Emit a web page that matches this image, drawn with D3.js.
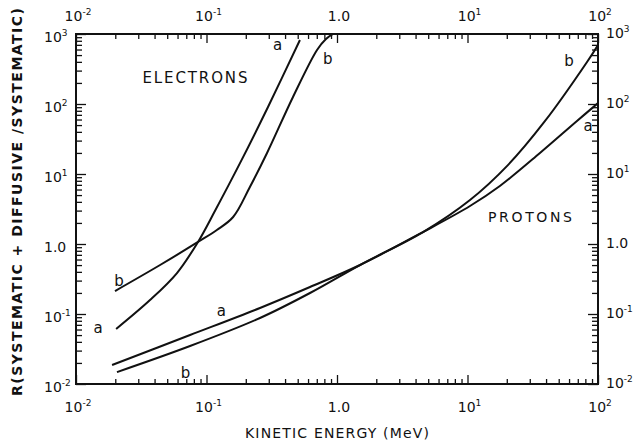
<!DOCTYPE html>
<html>
<head>
<meta charset="utf-8">
<script src="https://cdn.jsdelivr.net/npm/d3@7"></script>
<style>
  body { margin: 0; background: #fff; }
  text { font-family: "DejaVu Sans", sans-serif; fill: #111; }
</style>
</head>
<body>
<svg id="chart" width="644" height="444"></svg>
<script>
// values: [kinetic energy (MeV), R]
const electronA = [[0.0203, 0.0611], [0.0369, 0.158], [0.0594, 0.385], [0.0861, 1.07],
    [0.116, 2.96], [0.181, 14.4], [0.296, 90.6], [0.52, 821]]
const electronB = [[0.0199, 0.213], [0.0441, 0.501], [0.0861, 1.07], [0.120, 1.585],
    [0.160, 2.43], [0.215, 6.52], [0.291, 19.95], [0.460, 126], [0.703, 591],
    [0.823, 849], [0.932, 1000]]
const protonA = [[0.0189, 0.0187], [0.0748, 0.0501], [0.257, 0.122], [0.621, 0.243],
    [1.50, 0.501], [4.56, 1.48], [10.45, 3.49], [17.7, 6.74], [35.9, 19.95],
    [69.0, 57.2], [100, 103]]
const protonB = [[0.0206, 0.0148], [0.0748, 0.0349], [0.257, 0.0877], [0.621, 0.1995],
    [1.50, 0.501], [4.56, 1.48], [10.45, 4.25], [20.4, 13.4], [39.3, 57.2],
    [82.4, 398], [100, 696]]

// tick labels: [value, base, exponent]  (exponent null -> plain text)
const xTickLabels = [[0.01, "10", "-2"], [0.1, "10", "-1"], [1, "1.0", null], [10, "10", "1"], [100, "10", "2"]]
const yTickLabels = [[0.01, "10", "-2"], [0.1, "10", "-1"], [1, "1.0", null], [10, "10", "1"],
    [100, "10", "2"], [1000, "10", "3"]]

// curve labels: [E, R, text]
const curveLabels = [
    [0.35, 700, "a"], [0.85, 440, "b"], [0.0214, 0.3, "b"], [0.0148, 0.063, "a"],
    [0.13, 0.11, "a"], [0.069, 0.0142, "b"], [60, 410, "b"], [84, 48, "a"]
]

const svg = d3.select("#chart")
const x = d3.scaleLog().domain([1e-2, 1e2]).range([76, 598])
const y = d3.scaleLog().domain([1e-2, 1e3]).range([384, 34])

function logTicks(lo, hi, major) {
    const out = []
    for (let e = lo; e < hi; e++) {
        for (let m = major ? 1 : 2; m <= (major ? 1 : 9); m++) out.push(m * Math.pow(10, e))
    }
    if (major) out.push(Math.pow(10, hi))
    return out
}

const xMinor = logTicks(-2, 2, false), xMajor = logTicks(-2, 2, true)
const yMinor = logTicks(-2, 3, false), yMajor = logTicks(-2, 3, true)

function drawAxis(axisFn, scale, ticks, size, transform) {
    const g = svg.append("g")
        .attr("transform", transform)
        .call(axisFn(scale).tickValues(ticks).tickSize(size).tickFormat(""))
    g.select(".domain").remove()
    g.selectAll("line").attr("stroke", "#111").attr("stroke-width", 1.3)
}

drawAxis(d3.axisBottom, x, xMinor, -5, "translate(0,384)")
drawAxis(d3.axisBottom, x, xMajor, -9, "translate(0,384)")
drawAxis(d3.axisTop, x, xMinor, -5, "translate(0,34)")
drawAxis(d3.axisTop, x, xMajor, -9, "translate(0,34)")
drawAxis(d3.axisLeft, y, yMinor, -6, "translate(76,0)")
drawAxis(d3.axisLeft, y, yMajor, -10, "translate(76,0)")
drawAxis(d3.axisRight, y, yMinor, -6, "translate(598,0)")
drawAxis(d3.axisRight, y, yMajor, -10, "translate(598,0)")

// frame
svg.append("rect")
    .attr("x", 76).attr("y", 34)
    .attr("width", 598 - 76).attr("height", 384 - 34)
    .attr("fill", "none")
    .attr("stroke", "#111")
    .attr("stroke-width", 2)

function sciLabel(sel, d) {
    sel.append("tspan").text(d[1])
    if (d[2] !== null) {
        sel.append("tspan")
            .attr("dy", -6)
            .attr("font-size", "9px")
            .text(d[2])
    }
}

// bottom and top tick labels
xTickLabels.forEach(d => {
    svg.append("text")
        .attr("x", x(d[0]) + 2).attr("y", 412)
        .attr("text-anchor", "middle")
        .attr("font-size", "14px")
        .call(sciLabel, d)
    svg.append("text")
        .attr("x", x(d[0]) + 2).attr("y", 21)
        .attr("text-anchor", "middle")
        .attr("font-size", "14px")
        .call(sciLabel, d)
})

// left and right tick labels
yTickLabels.forEach(d => {
    svg.append("text")
        .attr("x", 44).attr("y", y(d[0]) + 8)
        .attr("font-size", "14px")
        .call(sciLabel, d)
    svg.append("text")
        .attr("x", 606).attr("y", y(d[0]) + 4)
        .attr("font-size", "14px")
        .call(sciLabel, d)
})

// curves
const line = d3.line()
    .x(d => x(d[0]))
    .y(d => y(d[1]))
    .curve(d3.curveCatmullRom.alpha(0.5))

const plot = svg.append("g")
plot.append("clipPath").attr("id", "clip")
    .append("rect").attr("x", 76).attr("y", 34).attr("width", 522).attr("height", 350)

;[electronA, electronB, protonA, protonB].forEach(s => {
    plot.append("path")
        .datum(s)
        .attr("clip-path", "url(#clip)")
        .attr("d", line)
        .attr("fill", "none")
        .attr("stroke", "#111")
        .attr("stroke-width", 2)
})

curveLabels.forEach(d => {
    svg.append("text")
        .attr("x", x(d[0])).attr("y", y(d[1]))
        .attr("text-anchor", "middle")
        .attr("dominant-baseline", "central")
        .attr("font-size", "15px")
        .text(d[2])
})

svg.append("text")
    .attr("x", 195).attr("y", 83)
    .attr("text-anchor", "middle")
    .attr("font-size", "15px")
    .attr("textLength", 105)
    .text("ELECTRONS")

svg.append("text")
    .attr("x", 530).attr("y", 222)
    .attr("text-anchor", "middle")
    .attr("font-size", "14px")
    .attr("textLength", 84)
    .text("PROTONS")

svg.append("text")
    .attr("x", 337).attr("y", 438)
    .attr("text-anchor", "middle")
    .attr("font-size", "14px")
    .attr("textLength", 184)
    .text("KINETIC ENERGY (MeV)")

svg.append("text")
    .attr("transform", "translate(22,202) rotate(-90)")
    .attr("text-anchor", "middle")
    .attr("font-size", "14px")
    .attr("font-weight", "bold")
    .attr("textLength", 388)
    .text("R(SYSTEMATIC + DIFFUSIVE /SYSTEMATIC)")
</script>
</body>
</html>
